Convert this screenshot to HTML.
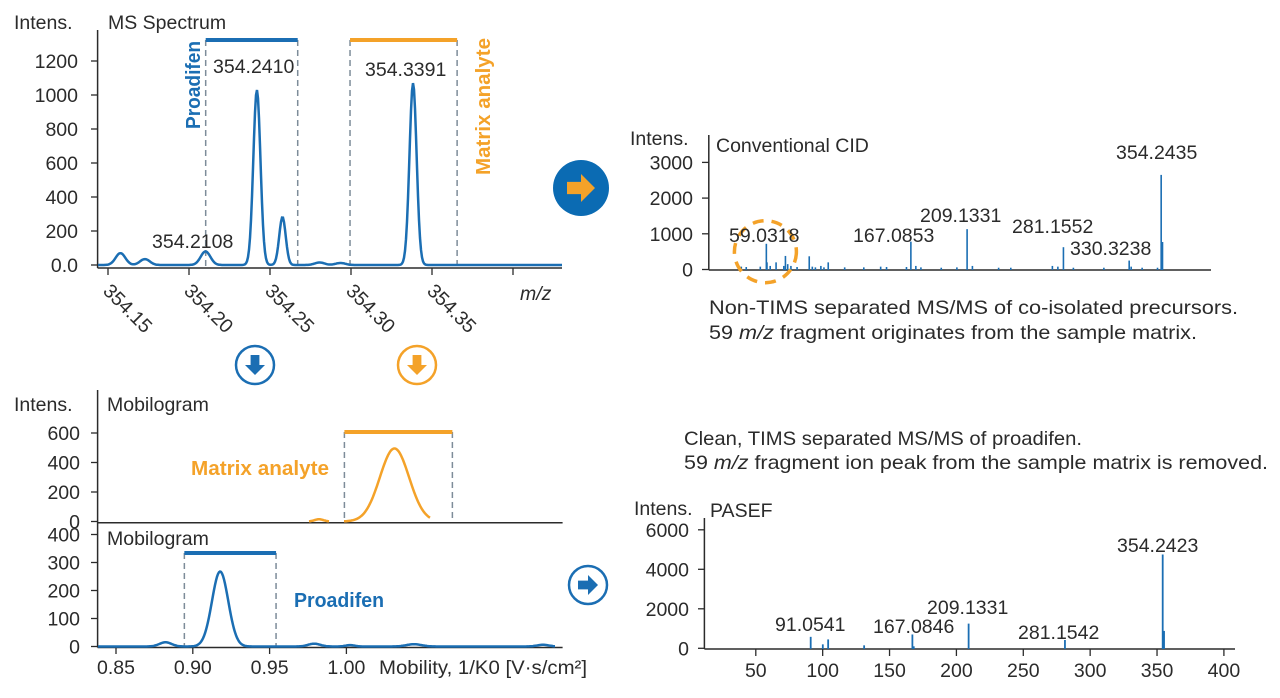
<!DOCTYPE html>
<html><head><meta charset="utf-8"><style>
html,body{margin:0;padding:0;background:#fff;}
svg{display:block;font-family:"Liberation Sans",sans-serif;}
text{fill:#2b2b2b;font-size:19.5px;}
</style></head><body>
<svg id="fig" width="1280" height="698" viewBox="0 0 1280 698" xmlns="http://www.w3.org/2000/svg"></svg>
<script>
// ---------- DATA ----------
const msCenters = [354.1577, 354.1728, 354.2102, 354.2419, 354.2577, 354.2806, 354.2935, 354.3383];
const msHeights = [70, 35, 80, 1030, 282, 15, 12, 1070];
const msSigmas  = [0.0030, 0.0030, 0.0030, 0.0022, 0.0020, 0.0030, 0.0030, 0.0022];
const msYTicks = [0, 200, 400, 600, 800, 1000, 1200];
const msYLabels = ["0.0","200","400","600","800","1000","1200"];
const msXTicks = [354.15, 354.20, 354.25, 354.30, 354.35, 354.40];
const msXLabels = ["354.15","354.20","354.25","354.30","354.35",""];
const msProadifenWin = [354.2103, 354.2671];
const msMatrixWin = [354.2994, 354.3655];

const cidMz = [40.3,44.0,54.5,59.03,59.5,61.9,66.3,72.1,73.3,75.0,77.4,82.0,91.1,93.4,95.7,99.8,102.1,105.3,117.6,131.9,144.5,148.9,163.8,167.09,170.8,174.6,189.8,201.5,209.13,213.1,232.7,241.8,272.9,277.0,281.16,288.6,311.4,330.32,331.8,340.0,351.5,354.24,355.24];
const cidInt = [80,70,80,720,200,100,200,100,380,150,100,70,370,80,60,100,60,200,60,60,80,70,70,780,100,60,50,60,1130,100,50,50,100,80,625,50,50,250,80,50,50,2650,770];
const cidYTicks = [0,1000,2000,3000];
const cidLabels = ["59.0318","167.0853","209.1331","281.1552","330.3238","354.2435"];

const mobXTicks = [0.85,0.90,0.95,1.00];
const mobXLabels = ["0.85","0.90","0.95","1.00"];
const matCenters = [0.9822, 1.0313];
const matHeights = [15, 495];
const matSigmas  = [0.003, 0.0095];
const matYTicks = [0,200,400,600];
const matWin = [0.9987, 1.069];
const proCenters = [0.8822, 0.9178, 0.979, 1.0024, 1.044, 1.128];
const proHeights = [15, 268, 10, 5, 8, 6];
const proSigmas  = [0.004, 0.0053, 0.004, 0.003, 0.005, 0.004];
const proYTicks = [0,100,200,300,400];
const proWin = [0.8945, 0.9542];

const pasMz  = [91.05, 100.1, 104.1, 131.0, 167.08, 168.1, 209.13, 281.15, 354.24, 355.24];
const pasInt = [580, 200, 450, 150, 700, 100, 1250, 420, 4750, 880];
const pasYTicks = [0,2000,4000,6000];
const pasXTicks = [50,100,150,200,250,300,350,400];

// ---------- HELPERS ----------
const NS = "http://www.w3.org/2000/svg";
const svg = document.getElementById('fig');
const BLUE = "#1b6eb3", ORANGE = "#f4a229", DASH = "#7d8c99", INK = "#2b2b2b";
function el(tag, attrs, parent){
  const e = document.createElementNS(NS, tag);
  for (const k in attrs) e.setAttribute(k, attrs[k]);
  (parent||svg).appendChild(e);
  return e;
}
function txt(x, y, s, opts, parent){
  const t = el('text', Object.assign({x:x, y:y}, opts||{}), parent);
  t.textContent = s;
  return t;
}
function lin(d0,d1,r0,r1){ return v => r0 + (v-d0)/(d1-d0)*(r1-r0); }
function gaussCurve(xs, centers, heights, sigmas, sx, sy, x0, x1, clampY){
  let d = "";
  for (let px = x0; px <= x1; px += 1){
    const v = xs(px);
    let s = 0;
    for (let i=0;i<centers.length;i++){ const z=(v-centers[i])/sigmas[i]; s += heights[i]*Math.exp(-0.5*z*z); }
    d += (px===x0?"M":"L") + px.toFixed(1) + "," + Math.min(sy(s),clampY).toFixed(1);
  }
  return d;
}

// ---------- MS SPECTRUM ----------
{
  const g = el('g', {});
  
  
  const sx = lin(354.15, 354.20, 108, 189);
  const inv = lin(108, 189, 354.15, 354.20);
  const sy = lin(0, 200, 265, 231);
  const yAxis = el('line', {x1:97.6,y1:30,x2:97.6,y2:268,stroke:INK,'stroke-width':1.5}, g);
  
  
  const xAxis = el('line', {x1:97.6,y1:268,x2:562,y2:268,stroke:INK,'stroke-width':1.5}, g);
  
  
  msYTicks.forEach((v,i)=>{
    el('line',{x1:91,y1:sy(v),x2:97.6,y2:sy(v),stroke:INK,'stroke-width':1.3},g);
    const t = txt(78, sy(v)+7, msYLabels[i], {'text-anchor':'end'}, g);
    
    
  });
  msXTicks.forEach((v,i)=>{
    el('line',{x1:sx(v),y1:268,x2:sx(v),y2:275,stroke:INK,'stroke-width':1.3},g);
    if (msXLabels[i]){
      const x = sx(v)-6, y = 292;
      const t = txt(x, y, msXLabels[i], {transform:`rotate(45 ${x} ${y})`}, g);
      
      
    }
  });
  const ml = txt(520, 300, "m/z", {'font-style':'italic'}, g);
  
  
  [[msProadifenWin, BLUE],[msMatrixWin, ORANGE]].forEach(([w,c])=>{
    el('line',{x1:sx(w[0]),y1:40,x2:sx(w[0]),y2:268,stroke:DASH,'stroke-width':1.5,'stroke-dasharray':'6,4'},g);
    el('line',{x1:sx(w[1]),y1:40,x2:sx(w[1]),y2:268,stroke:DASH,'stroke-width':1.5,'stroke-dasharray':'6,4'},g);
    const b = el('line',{x1:sx(w[0]),y1:40,x2:sx(w[1]),y2:40,stroke:c,'stroke-width':4},g);
    
    
  });
  const p = el('path',{d:gaussCurve(inv,msCenters,msHeights,msSigmas,sx,sy,98,562,268),fill:'none',stroke:BLUE,'stroke-width':2.5},g);
  
  
  [["354.2410",213,73],["354.3391",365,76],["354.2108",152,248]].forEach(([s,x,y])=>{
    const t = txt(x,y,s,{},g);
    
    
  });
  const pl = txt(200, 129, "Proadifen", {transform:'rotate(-90 200 129)','font-weight':'bold',textLength:88,lengthAdjust:'spacingAndGlyphs',style:'fill:'+BLUE+';font-size:20px'}, g);
  
  
  const mal = txt(490, 175, "Matrix analyte", {transform:'rotate(-90 490 175)','font-weight':'bold',textLength:137,lengthAdjust:'spacingAndGlyphs',style:'fill:'+ORANGE+';font-size:20px'}, g);
  
  
  const il = txt(14, 29, "Intens.", {}, g);
  
  
  const tl = txt(108, 29, "MS Spectrum", {}, g);
  
  
}

// ---------- CONVENTIONAL CID ----------
{
  const g = el('g', {});
  
  
  const sx = lin(16, 390, 708.8, 1209);
  const sy = lin(0, 1000, 269.5, 233.8);
  el('line',{x1:708.8,y1:135,x2:708.8,y2:270,stroke:INK,'stroke-width':1.5},g);
  el('line',{x1:708.8,y1:270,x2:1211,y2:270,stroke:INK,'stroke-width':1.5},g);
  cidYTicks.forEach(v=>{
    el('line',{x1:702,y1:sy(v),x2:708.8,y2:sy(v),stroke:INK,'stroke-width':1.3},g);
    const t = txt(693, sy(v)+7, String(v), {'text-anchor':'end'}, g);
    
    
  });
  cidMz.forEach((m,i)=>{
    const b = el('line',{x1:sx(m),y1:270,x2:sx(m),y2:sy(cidInt[i]),stroke:BLUE,'stroke-width':1.6},g);
    
    
  });
  const c = el('circle',{cx:765.4,cy:251.7,r:31,fill:'none',stroke:ORANGE,'stroke-width':3.5,'stroke-dasharray':'11,8'},g);
  
  
  const pos = [[729,242],[853,242],[920,222],[1012,233],[1070,255],[1116,159]];
  cidLabels.forEach((s,i)=>{
    const t = txt(pos[i][0],pos[i][1],s,{},g);
    
    
  });
  const il = txt(630, 145, "Intens.", {}, g);
  
  
  const tl = txt(716, 152, "Conventional CID", {}, g);
  
  
  const n1 = txt(709, 314, "Non-TIMS separated MS/MS of co-isolated precursors.", {textLength:529,lengthAdjust:'spacingAndGlyphs'}, g);
  
  
  const n2 = el('text',{x:709,y:339,textLength:488,lengthAdjust:'spacingAndGlyphs'},g);
  
  
  n2.innerHTML = '59 <tspan font-style="italic">m/z</tspan> fragment originates from the sample matrix.';
}

// ---------- MOBILOGRAMS ----------
{
  const g = el('g', {});
  
  
  const sx = lin(0.85, 0.90, 116, 192.8);
  const inv = lin(116, 192.8, 0.85, 0.90);
  const syA = lin(0, 200, 521.5, 492);
  const syB = lin(0, 100, 646.5, 618.5);
  el('line',{x1:97.6,y1:390,x2:97.6,y2:647.5,stroke:INK,'stroke-width':1.5},g);
  el('line',{x1:97.6,y1:522.7,x2:562.6,y2:522.7,stroke:INK,'stroke-width':1.5},g);
  el('line',{x1:97.6,y1:647.5,x2:562.6,y2:647.5,stroke:INK,'stroke-width':1.5},g);
  matYTicks.forEach(v=>{
    el('line',{x1:91,y1:syA(v),x2:97.6,y2:syA(v),stroke:INK,'stroke-width':1.3},g);
    const t = txt(80, syA(v)+7, String(v), {'text-anchor':'end'}, g);
    
    
  });
  proYTicks.forEach(v=>{
    el('line',{x1:91,y1:syB(v),x2:97.6,y2:syB(v),stroke:INK,'stroke-width':1.3},g);
    const t = txt(80, syB(v)+7, String(v), {'text-anchor':'end'}, g);
    
    
  });
  mobXTicks.forEach((v,i)=>{
    el('line',{x1:sx(v),y1:647.5,x2:sx(v),y2:654,stroke:INK,'stroke-width':1.3},g);
    const t = txt(sx(v), 674, mobXLabels[i], {'text-anchor':'middle'}, g);
    
    
  });
  const xt = txt(379, 674, "Mobility, 1/K0 [V·s/cm²]", {textLength:208,lengthAdjust:'spacingAndGlyphs'}, g);
  
  
  [[matWin, ORANGE, 432, 522],[proWin, BLUE, 553, 647]].forEach(([w,c,yt,yb])=>{
    el('line',{x1:sx(w[0]),y1:yt,x2:sx(w[0]),y2:yb,stroke:DASH,'stroke-width':1.5,'stroke-dasharray':'6,4'},g);
    el('line',{x1:sx(w[1]),y1:yt,x2:sx(w[1]),y2:yb,stroke:DASH,'stroke-width':1.5,'stroke-dasharray':'6,4'},g);
    const b = el('line',{x1:sx(w[0]),y1:yt,x2:sx(w[1]),y2:yt,stroke:c,'stroke-width':4},g);
    
    
  });
  let dA = "", started=false;
  for (let px=300; px<=430; px++){
    const v = inv(px); let s=0;
    for (let i=0;i<matCenters.length;i++){const z=(v-matCenters[i])/matSigmas[i]; s+=matHeights[i]*Math.exp(-0.5*z*z);}
    if (s>1){ dA += (started?"L":"M")+px+","+syA(s).toFixed(1); started=true;} else started=false;
  }
  const ca = el('path',{d:dA,fill:'none',stroke:ORANGE,'stroke-width':2.5},g);
  
  
  const cb = el('path',{d:gaussCurve(inv,proCenters,proHeights,proSigmas,sx,syB,98,555,647),fill:'none',stroke:BLUE,'stroke-width':2.5},g);
  
  
  const ma = txt(191, 475, "Matrix analyte", {'font-weight':'bold',textLength:138,lengthAdjust:'spacingAndGlyphs',style:'fill:'+ORANGE+';font-size:20px'}, g);
  
  
  const pr = txt(294, 607, "Proadifen", {'font-weight':'bold',textLength:90,lengthAdjust:'spacingAndGlyphs',style:'fill:'+BLUE+';font-size:20px'}, g);
  
  
  const il = txt(14, 411, "Intens.", {}, g);
  
  
  const t1 = txt(107, 411, "Mobilogram", {}, g);
  
  
  const t2 = txt(107, 545, "Mobilogram", {}, g);
  
  
}

// ---------- PASEF ----------
{
  const g = el('g', {});
  
  
  const sx = lin(50, 400, 755.8, 1223.9);
  const sy = lin(0, 2000, 648.3, 608.8);
  el('line',{x1:704.4,y1:518,x2:704.4,y2:649,stroke:INK,'stroke-width':1.5},g);
  el('line',{x1:704.4,y1:649,x2:1235,y2:649,stroke:INK,'stroke-width':1.5},g);
  pasYTicks.forEach(v=>{
    el('line',{x1:698,y1:sy(v),x2:704.4,y2:sy(v),stroke:INK,'stroke-width':1.3},g);
    const t = txt(689, sy(v)+7, String(v), {'text-anchor':'end'}, g);
    
    
  });
  pasXTicks.forEach(v=>{
    el('line',{x1:sx(v),y1:649,x2:sx(v),y2:656,stroke:INK,'stroke-width':1.3},g);
    const t = txt(sx(v), 677, String(v), {'text-anchor':'middle'}, g);
    
    
  });
  pasMz.forEach((m,i)=>{
    const b = el('line',{x1:sx(m),y1:649,x2:sx(m),y2:sy(pasInt[i]),stroke:BLUE,'stroke-width':1.8},g);
    
    
  });
  [["91.0541",775,631],["167.0846",873,633],["209.1331",927,614],["281.1542",1018,639],["354.2423",1117,552]].forEach(([s,x,y])=>{
    const t = txt(x,y,s,{},g);
    
    
  });
  const il = txt(634, 515, "Intens.", {}, g);
  
  
  const tl = txt(710, 517, "PASEF", {}, g);
  
  
  const c1 = txt(684, 445, "Clean, TIMS separated MS/MS of proadifen.", {textLength:398,lengthAdjust:'spacingAndGlyphs'}, g);
  
  
  const c2 = el('text',{x:684,y:469,textLength:584,lengthAdjust:'spacingAndGlyphs'},g);
  
  
  c2.innerHTML = '59 <tspan font-style="italic">m/z</tspan> fragment ion peak from the sample matrix is removed.';
}

// ---------- ARROW ICONS ----------
function arrowPath(s){
  return `M${-s*0.5},${-s*0.22} L0,${-s*0.22} L0,${-s*0.5} L${s*0.5},0 L0,${s*0.5} L0,${s*0.22} L${-s*0.5},${s*0.22} Z`;
}
{
  const a = el('g',{transform:'translate(581,188)'});
  
  
  el('circle',{r:28,fill:'#0b6bb3'},a);
  el('path',{d:arrowPath(28),fill:ORANGE},a);

  const b = el('g',{transform:'translate(255,365)'});
  
  
  el('circle',{r:19,fill:'#fff',stroke:BLUE,'stroke-width':2.5},b);
  el('path',{d:arrowPath(20),fill:BLUE,transform:'rotate(90)'},b);

  const c = el('g',{transform:'translate(417,365)'});
  
  
  el('circle',{r:19,fill:'#fff',stroke:ORANGE,'stroke-width':2.5},c);
  el('path',{d:arrowPath(20),fill:ORANGE,transform:'rotate(90)'},c);

  const d = el('g',{transform:'translate(588,585)'});
  
  
  el('circle',{r:19,fill:'#fff',stroke:BLUE,'stroke-width':2.5},d);
  el('path',{d:arrowPath(20),fill:BLUE},d);
}
</script>
</body></html>
